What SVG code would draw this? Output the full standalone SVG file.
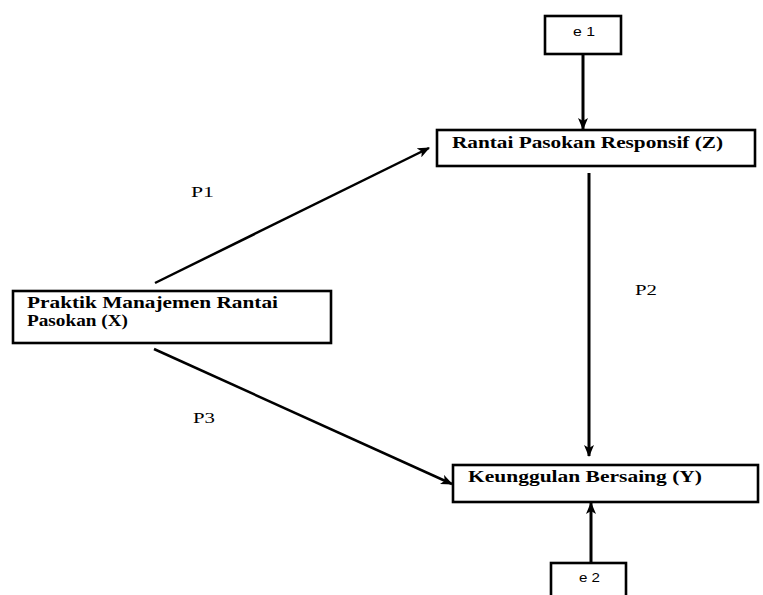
<svg xmlns="http://www.w3.org/2000/svg" width="763" height="595" viewBox="0 0 763 595">
<style>
.box{fill:#fff;stroke:#000;stroke-width:2.6}
.lbl{font-family:"Liberation Serif","DejaVu Serif",serif;font-weight:bold;font-size:16px;fill:#000}
.p{font-family:"Liberation Serif","DejaVu Serif",serif;font-size:14px;fill:#000}
.e{font-family:"Liberation Sans",Arial,sans-serif;font-size:12px;fill:#000}
.arr{stroke:#000;stroke-width:2.5;fill:none;marker-end:url(#ah)}
.varr{stroke:#000;stroke-width:3;fill:none;marker-end:url(#ah)}
</style>
<defs>
<marker id="ah" markerUnits="userSpaceOnUse" markerWidth="12" markerHeight="10" refX="11" refY="5" orient="auto">
<path d="M0,0 L12,5 L0,10 L3,5 Z" fill="#000"/>
</marker>
</defs>
<rect width="763" height="595" fill="#fff"/>
<g id="connectors">
<line class="varr" x1="583" y1="55" x2="583" y2="129"/>
<line class="arr" x1="155" y1="283" x2="429" y2="148"/>
<line class="varr" x1="589" y1="173" x2="589" y2="456"/>
<line class="arr" x1="154" y1="349" x2="452" y2="484"/>
<line class="varr" x1="591" y1="563" x2="591" y2="503"/>
</g>
<g id="e1">
<rect class="box" x="545" y="16" width="76" height="38"/>
<text class="e" x="573" y="36" textLength="22" lengthAdjust="spacingAndGlyphs">e 1</text>
</g>
<g id="Z">
<rect class="box" x="437" y="130" width="318" height="36"/>
<text class="lbl" x="452" y="148" textLength="271" lengthAdjust="spacingAndGlyphs">Rantai Pasokan Responsif (Z)</text>
</g>
<g id="X">
<rect class="box" x="13" y="291" width="318" height="52"/>
<text class="lbl" x="27" y="308" textLength="251" lengthAdjust="spacingAndGlyphs">Praktik Manajemen Rantai</text>
<text class="lbl" x="27" y="326" textLength="101" lengthAdjust="spacingAndGlyphs">Pasokan (X)</text>
</g>
<g id="Y">
<rect class="box" x="453" y="465" width="305" height="37"/>
<text class="lbl" x="468" y="482" textLength="234" lengthAdjust="spacingAndGlyphs">Keunggulan Bersaing (Y)</text>
</g>
<g id="e2">
<rect class="box" x="551" y="563" width="75" height="40"/>
<text class="e" x="579" y="582" textLength="21" lengthAdjust="spacingAndGlyphs">e 2</text>
</g>
<g id="labels">
<text class="p" x="191" y="197" textLength="23" lengthAdjust="spacingAndGlyphs">P1</text>
<text class="p" x="635" y="295" textLength="22" lengthAdjust="spacingAndGlyphs">P2</text>
<text class="p" x="193" y="423" textLength="22" lengthAdjust="spacingAndGlyphs">P3</text>
</g>
</svg>
